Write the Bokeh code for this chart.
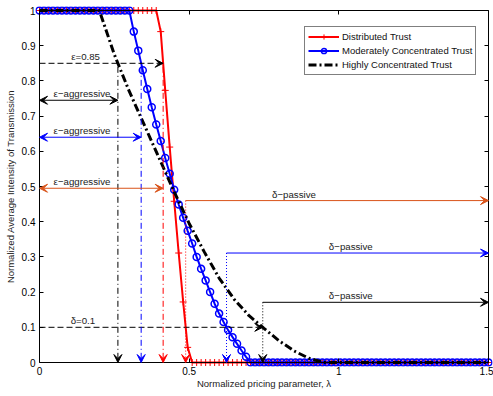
import numpy as np
from bokeh.plotting import figure
from bokeh.models import Arrow, VeeHead, LinearAxis, FixedTicker, Range1d
from bokeh.core.properties import value
from bokeh.embed import file_html
from bokeh.resources import INLINE

# ---- data -------------------------------------------------------------
# normalized pricing parameter grid for the two marked curves (step 0.015)
lam = np.round(np.linspace(0.0, 1.5, 101), 4)

# Distributed Trust
distributed = ([1.0] * 27
               + [0.94, 0.773, 0.612, 0.458, 0.311, 0.172, 0.043]
               + [0.0] * 67)

# Moderately Concentrated Trust
moderate = ([1.0] * 21
            + [0.94, 0.886, 0.83, 0.777, 0.725, 0.676, 0.629, 0.581, 0.536,
               0.491, 0.449, 0.411, 0.374, 0.338, 0.30, 0.266, 0.233, 0.2,
               0.167, 0.139, 0.115, 0.092, 0.072, 0.053, 0.034, 0.016]
            + [0.0] * 54)

# Highly Concentrated Trust (smooth curve, no markers)
highly_lam = [0.0, 0.2, 0.25, 0.3, 0.35, 0.4, 0.45, 0.5, 0.55, 0.6, 0.65,
              0.7, 0.75, 0.8, 0.85, 0.9, 0.95, 1.5]
highly = [1.0, 1.0, 0.875, 0.77, 0.675, 0.58, 0.485, 0.395, 0.315, 0.24,
          0.18, 0.133, 0.097, 0.062, 0.033, 0.012, 0.0, 0.0]

x_ticks = [0.0, 0.5, 1.0, 1.5]
x_tick_labels = ["0", "0.5", "1", "1.5"]
y_ticks = [0.0, 0.1, 0.2, 0.3, 0.4, 0.5, 0.6, 0.7, 0.8, 0.9, 1.0]
y_tick_labels = ["0", "0.1", "0.2", "0.3", "0.4", "0.5", "0.6", "0.7",
                 "0.8", "0.9", "1"]

eps = 0.85      # epsilon threshold
delta = 0.1     # delta threshold
# heights of the epsilon-aggressive / delta-passive arrows (black, blue, red)
aggressive_levels = [0.745, 0.64, 0.495]
passive_levels = [0.171, 0.311, 0.46]

# ---- figure -----------------------------------------------------------
FONT = "Liberation Sans"
RED, BLUE, BLACK = "#ff0000", "#0000ff", "#000000"
ARROW_RED = "#D95319"

# The axes box spans [0, 1.5] x [0, 1]; the frame is a few pixels larger so
# that markers sitting on the box edges are drawn in full.
X0, X1, Y0, Y1 = 0.0, 1.5, 0.0, 1.0
BOX_W, BOX_H, PAD = 449.0, 352.0, 4.0
px = (X1 - X0) / BOX_W
py = (Y1 - Y0) / BOX_H

p = figure(width=493, height=396,
           x_range=Range1d(X0 - PAD * px, X1 + PAD * px),
           y_range=Range1d(Y0 - PAD * py, Y1 + PAD * py),
           output_backend="svg", toolbar_location=None,
           x_axis_location=None, y_axis_location=None,
           min_border_left=35, min_border_right=1,
           min_border_top=6, min_border_bottom=30)
p.grid.visible = False
p.outline_line_color = None


def box_axis(ticks, loc, bounds):
    """Axis line on a box edge with inward ticks and no labels."""
    ax = LinearAxis(fixed_location=loc, bounds=bounds)
    ax.ticker = FixedTicker(ticks=ticks)
    ax.major_label_overrides = {t: "" for t in ticks}
    ax.major_label_text_font_size = "0px"
    ax.major_label_standoff = 0
    ax.minor_tick_line_color = None
    ax.major_tick_in = 4
    ax.major_tick_out = 0
    ax.major_tick_line_color = "black"
    ax.axis_line_color = "black"
    ax.axis_line_width = 1
    return ax


def label_axis(ticks, labels, title, title_standoff):
    """Tick labels and axis title only; lines come from the box axes."""
    ax = LinearAxis()
    ax.ticker = FixedTicker(ticks=ticks)
    ax.major_label_overrides = dict(zip(ticks, labels))
    ax.minor_tick_line_color = None
    ax.major_tick_line_color = None
    ax.axis_line_color = None
    ax.major_tick_in = 0
    ax.major_tick_out = 0
    ax.major_label_standoff = 0
    ax.major_label_text_font = FONT
    ax.major_label_text_font_size = "10px"
    ax.major_label_text_color = "black"
    ax.axis_label = title
    ax.axis_label_text_font = FONT
    ax.axis_label_text_font_size = "9.5px"
    ax.axis_label_text_font_style = "normal"
    ax.axis_label_text_color = "#222222"
    ax.axis_label_standoff = title_standoff
    return ax


p.add_layout(box_axis(x_ticks, Y0, (X0, X1)), "below")
p.add_layout(box_axis(x_ticks, Y1, (X0, X1)), "above")
p.add_layout(box_axis(y_ticks, X0, (Y0, Y1)), "left")
p.add_layout(box_axis(y_ticks, X1, (Y0, Y1)), "right")
p.add_layout(label_axis(x_ticks, x_tick_labels, "Normalized pricing parameter, λ", 0),
             "below")
p.add_layout(label_axis(y_ticks, y_tick_labels,
                        "Normalized Average Intensity of Transmission", 3), "left")

# ---- curves -----------------------------------------------------------
p.line(lam, distributed, line_color=RED, line_width=2, legend_label="Distributed Trust")
p.scatter(lam, distributed, marker="cross", size=7, line_color=RED, line_width=1,
          legend_label="Distributed Trust")
p.line(lam, moderate, line_color=BLUE, line_width=2,
       legend_label="Moderately Concentrated Trust")
p.scatter(lam, moderate, marker="circle", size=7, fill_color=None, line_color=BLUE,
          line_width=1.5, legend_label="Moderately Concentrated Trust")
p.line(highly_lam, highly, line_color=BLACK, line_width=3, line_dash="8 3 2 3",
       legend_label="Highly Concentrated Trust")


# ---- threshold annotations ---------------------------------------------
def crossing(xs, ys, level):
    xs = np.asarray(xs, dtype=float)
    ys = np.asarray(ys, dtype=float)
    return float(np.interp(level, ys[::-1], xs[::-1]))


curves = [(highly_lam, highly, BLACK, BLACK),
          (lam, moderate, BLUE, BLUE),
          (lam, distributed, RED, ARROW_RED)]


def head(color):
    return VeeHead(size=8, fill_color=color, line_color=color, line_width=1)


def arrow(x0, y0, x1, y1, color, dash="solid", both=False):
    p.add_layout(Arrow(x_start=x0, y_start=y0, x_end=x1, y_end=y1,
                       line_color=color, line_width=1, line_dash=dash,
                       end=head(color), start=head(color) if both else None))


def label(x, y, txt):
    p.text([x], [y], text=[txt], text_font=value(FONT), text_font_size="9.7px",
           text_color="#222222", text_align="center", text_baseline="bottom",
           y_offset=-1)


eps_x = [crossing(xs, ys, eps) for xs, ys, _, _ in curves]
delta_x = [crossing(xs, ys, delta) for xs, ys, _, _ in curves]

# epsilon = 0.85 reference line up to the outermost crossing
arrow(X0, eps, max(eps_x), eps, BLACK, dash="6 3")
label(0.154, eps, "ε=0.85")
# delta = 0.1 reference line up to the outermost crossing
arrow(X0, delta, max(delta_x), delta, BLACK, dash="6 3")
label(0.145, delta, "δ=0.1")

passive_text_x = [1.04, 1.04, 0.85]
for (xs, ys, lcol, acol), ex, dx, ay, pyl, tx in zip(curves, eps_x, delta_x,
                                                     aggressive_levels, passive_levels,
                                                     passive_text_x):
    # drop line from the epsilon crossing
    arrow(ex, eps - 0.01, ex, Y0, lcol, dash="6 3 1 3")
    # epsilon-aggressive span
    arrow(X0, ay, ex, ay, acol, both=True)
    label(0.142, ay, "ε−aggressive")
    # drop line from the delta crossing
    arrow(dx, pyl, dx, Y0, lcol, dash="1 2")
    # delta-passive span
    arrow(dx, pyl, X1, pyl, acol)
    label(tx, pyl, "δ−passive")

# ---- legend -----------------------------------------------------------
lg = p.legend[0]
lg.location = (269, 291)
lg.label_text_font = FONT
lg.label_text_font_size = "9.5px"
lg.label_text_color = "#111111"
lg.glyph_width = 31
lg.glyph_height = 13
lg.label_height = 13
lg.spacing = 1
lg.padding = 3
lg.margin = 0
lg.label_standoff = 3
lg.border_line_color = "black"
lg.border_line_width = 1
lg.background_fill_color = "white"
lg.background_fill_alpha = 1.0

open("out.html", "w").write(file_html(p, INLINE))
